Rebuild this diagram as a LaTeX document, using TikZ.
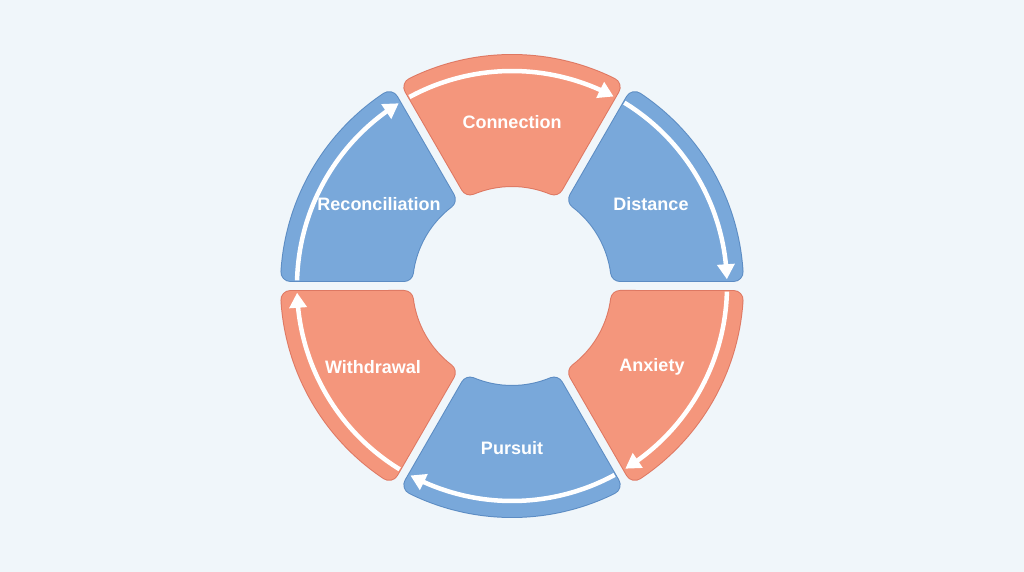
\documentclass[tikz,border=0pt]{standalone}
\usepackage{fontspec}
\setmainfont{Liberation Sans}
\usetikzlibrary{arrows.meta,bending}
\definecolor{bg}{HTML}{F0F6FA}
\definecolor{salmon}{HTML}{F4967C}
\definecolor{salmonedge}{HTML}{DE7862}
\definecolor{skyblue}{HTML}{79A8DA}
\definecolor{skyedge}{HTML}{5C8CC3}
\newcommand\ringseg[3]{%
  \pgfmathsetmacro\segsa{#1+3.62}%
  \pgfmathsetmacro\segea{#1+60-3.62}%
  \pgfmathsetmacro\segsi{#1+60-7.38}%
  \pgfmathsetmacro\segei{#1+7.38}%
  \draw[line width=20pt, line join=round, draw=#3, fill=#3]
    (\segsa:222) arc[start angle=\segsa, end angle=\segea, radius=222]
    -- (\segsi:109) arc[start angle=\segsi, end angle=\segei, radius=109] -- cycle;
  \draw[line width=18pt, line join=round, draw=#2, fill=#2]
    (\segsa:222) arc[start angle=\segsa, end angle=\segea, radius=222]
    -- (\segsi:109) arc[start angle=\segsi, end angle=\segei, radius=109] -- cycle;
}
\newcommand\ringarrow[1]{%
  \pgfmathsetmacro\arrsa{#1+60-1.5}%
  \pgfmathsetmacro\arrea{#1+1.8}%
  \draw[flowarrow] (\arrsa:215) arc[start angle=\arrsa, end angle=\arrea, radius=215];
}
\begin{document}
\begin{tikzpicture}[x=1pt,y=1pt,
  flowarrow/.style={draw=white, line width=4.5pt, -{Triangle[width=17pt,length=15pt,flex]}},
  lbl/.style={text=white, font=\bfseries\fontsize{18}{20}\selectfont, inner sep=0pt}]
\fill[bg] (-512,-286) rectangle (512,286);
\useasboundingbox (-512,-286) rectangle (512,286);
% segments
\ringseg{60}{salmon}{salmonedge}
\ringseg{0}{skyblue}{skyedge}
\ringseg{-60}{salmon}{salmonedge}
\ringseg{-120}{skyblue}{skyedge}
\ringseg{180}{salmon}{salmonedge}
\ringseg{120}{skyblue}{skyedge}
% arrows
\ringarrow{60}
\ringarrow{0}
\ringarrow{-60}
\ringarrow{-120}
\ringarrow{180}
\ringarrow{120}
% labels
\node[lbl] (connection) at (0,164) {Connection};
\node[lbl] (distance) at (139,82) {Distance};
\node[lbl] (anxiety) at (140,-81) {Anxiety};
\node[lbl] (pursuit) at (0,-162) {Pursuit};
\node[lbl] (withdrawal) at (-139,-81) {Withdrawal};
\node[lbl] (reconciliation) at (-133,82) {Reconciliation};
\end{tikzpicture}
\end{document}
